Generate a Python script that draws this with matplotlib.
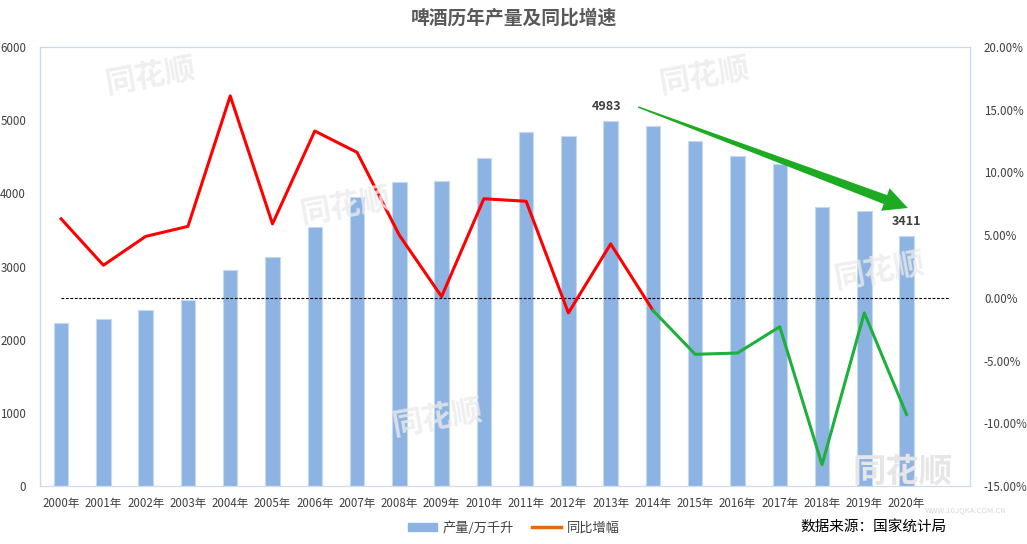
import matplotlib
matplotlib.use("Agg")
import numpy as np
import matplotlib.pyplot as plt
from matplotlib.ticker import FuncFormatter, FixedLocator
from matplotlib.patches import Patch, Polygon
from matplotlib.lines import Line2D

plt.rcParams['font.family'] = ['Noto Sans CJK SC', 'DejaVu Sans']

years = ["2000年", "2001年", "2002年", "2003年", "2004年", "2005年", "2006年",
         "2007年", "2008年", "2009年", "2010年", "2011年", "2012年", "2013年",
         "2014年", "2015年", "2016年", "2017年", "2018年", "2019年", "2020年"]
output = [2231, 2288, 2403, 2540, 2948, 3126, 3543, 3954, 4156, 4162, 4483,
          4834, 4779, 4983, 4922, 4716, 4506, 4401, 3812, 3765, 3411]
growth = [6.3, 2.6, 4.9, 5.7, 16.1, 5.9, 13.3, 11.6, 5.0, 0.1, 7.9,
          7.7, -1.2, 4.3, -1.0, -4.5, -4.4, -2.3, -13.3, -1.2, -9.3]
red_end = 14  # index where red segment ends / green begins
arrow_start = (13.65, 5180)
arrow_end = (20.03, 3800)

fig = plt.figure(figsize=(10.27, 5.44), dpi=100)
ax = fig.add_axes([40/1027, 1-486/544, 930/1027, 439/544])
x = list(range(len(years)))

ax.bar(x, output, width=0.34, color="#8DB3E2", edgecolor="#C5D9F1", linewidth=0.8, zorder=2)
ax.set_ylim(0, 6000)
ax.set_xlim(-0.5, 21.5)
ax.yaxis.set_major_locator(FixedLocator([0, 1000, 2000, 3000, 4000, 5000, 6000]))
ax.set_xticks(x)
ax.set_xticklabels(years)
ax.tick_params(axis='x', length=0, labelsize=8.3, colors="#404040", pad=8)
ax.tick_params(axis='y', length=0, labelsize=8.3, colors="#404040", pad=10)
for s in ax.spines.values():
    s.set_color("#C5D9F1")
    s.set_linewidth(0.9)
ax.spines['bottom'].set_color("#D0DCEB")

ax2 = ax.twinx()
ax2.set_ylim(-15, 20)
ax2.yaxis.set_major_locator(FixedLocator([-15, -10, -5, 0, 5, 10, 15, 20]))
ax2.yaxis.set_major_formatter(FuncFormatter(lambda v, p: f"{v:.2f}%"))
ax2.tick_params(axis='y', length=0, labelsize=8.3, colors="#404040", pad=10)
for s in ax2.spines.values():
    s.set_visible(False)

ax2.plot([0, 21], [0, 0], color="black", linestyle=(0, (2.5, 1.5)), linewidth=0.8, zorder=3)
ax2.plot(x[:red_end + 1], growth[:red_end + 1], color="#FF0000", linewidth=2.2, zorder=4)
ax2.plot(x[red_end:], growth[red_end:], color="#1DB03C", linewidth=2.2, zorder=4)

# annotations
peak_i = output.index(max(output))
ax.text(peak_i - 0.1, output[peak_i] + 200, str(output[peak_i]), ha="center", va="center",
        fontsize=9, fontweight="bold", color="#404040", zorder=6)
ax.text(20, output[20] + 200, str(output[20]), ha="center", va="center",
        fontsize=9, fontweight="bold", color="#404040", zorder=6)

# tapered green arrow (thin at start, thick near head)
p0 = np.array(ax.transData.transform(arrow_start))
p1 = np.array(ax.transData.transform(arrow_end))
u = (p1 - p0) / np.linalg.norm(p1 - p0)
n = np.array([-u[1], u[0]])
w0, w1, hw, hl = 1.5, 9.5, 24.0, 24.0
b = p1 - u * hl
pts = [p0 + n * w0 / 2, b + n * w1 / 2, b + n * hw / 2, p1,
       b - n * hw / 2, b - n * w1 / 2, p0 - n * w0 / 2]
fig.patches.append(Polygon(pts, closed=True, transform=None, facecolor="#1DAB22",
                           edgecolor="none", zorder=6, figure=fig))

# watermarks
wm = dict(color="#EBEBEB", fontsize=22, fontweight="bold", alpha=0.8, style="italic", zorder=1)
for (fx, fy) in [(0.1, 0.83), (0.29, 0.59), (0.64, 0.83), (0.81, 0.47), (0.38, 0.2)]:
    fig.text(fx, fy, "同花顺", rotation=10, **wm)
fig.text(0.83, 0.115, "同花顺", color="#E6E6E6", fontsize=24, fontweight="bold", style="italic", zorder=1)
fig.text(0.9, 0.058, "WWW.10JQKA.COM.CN", color="#D8D8D8", fontsize=5.5, zorder=1)

fig.text(0.5, 1 - 18/544, "啤酒历年产量及同比增速", ha="center", va="center",
         fontsize=13.5, fontweight="bold", color="#595959")

handles = [Patch(facecolor="#8DB3E2", edgecolor="#8DB3E2"),
           Line2D([0], [0], color="#E46C0A", linewidth=2.5)]
fig.legend(handles, ["产量/万千升", "同比增幅"], loc="center", bbox_to_anchor=(514/1027, 1 - 528/544),
           ncol=2, frameon=False, fontsize=9.5, handlelength=2.2, handleheight=0.6,
           handletextpad=0.4, columnspacing=1.4, labelcolor="#404040")
fig.text(800/1027, 1 - 528/544, "数据来源：国家统计局", ha="left", va="center", fontsize=10.5, color="#000000")

fig.savefig("out.png", dpi=100)
